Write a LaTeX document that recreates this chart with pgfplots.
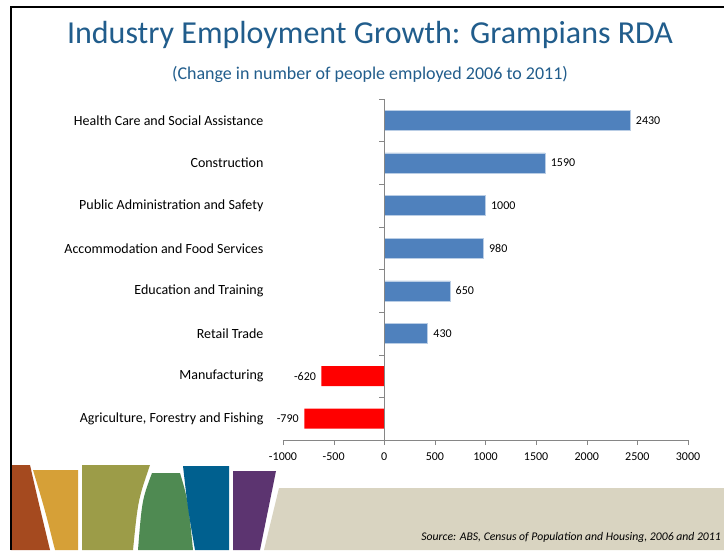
\documentclass[border=0pt]{standalone}
\usepackage{fontspec}
\setmainfont{Carlito}
\usepackage{pgfplots}
\pgfplotsset{compat=1.18}

\definecolor{titleblue}{HTML}{215D8C}
\definecolor{barblue}{HTML}{4F81BD}
\definecolor{baredge}{HTML}{B9CDE5}
\definecolor{barred}{HTML}{FF0000}
\definecolor{axisgray}{HTML}{868686}
\definecolor{cbrown}{HTML}{A54A1F}
\definecolor{cyellow}{HTML}{D6A037}
\definecolor{colive}{HTML}{9C9C48}
\definecolor{cgreen}{HTML}{4F8A52}
\definecolor{cblue}{HTML}{00608F}
\definecolor{cpurple}{HTML}{5C3470}
\definecolor{cbeige}{HTML}{D9D4C1}

\begin{document}
\begin{tikzpicture}[x=1pt,y=1pt]
  \clip (0,0) rectangle (724,550);
  \fill[white] (0,0) rectangle (724,550);

  % bottom decoration (image px, y flipped)
  \fill[cbeige] (279,62) -- (724,62) -- (724,0) -- (264,0) -- cycle;
  \fill[cbrown] (11,85) -- (30,85) .. controls (38,50) .. (50,0) -- (11,0) -- cycle;
  \fill[cyellow] (33,80) -- (78,80) -- (78,0) -- (55,0) .. controls (45,40) .. cycle;
  \fill[colive] (82,85) -- (150,85) .. controls (138,50) .. (133,0) -- (82,0) -- cycle;
  \fill[cgreen] (152,77) -- (180,77) .. controls (188,50) .. (193,0) -- (138,0) .. controls (142,50) .. cycle;
  \fill[cblue] (183,84) -- (229,84) -- (229,0) -- (195,0) .. controls (188,40) .. cycle;
  \fill[cpurple] (233,79) -- (276,79) -- (260,0) -- (233,0) -- cycle;
  \node[anchor=base east, font=\fontsize{11.7}{14}\selectfont\itshape, inner sep=0pt]
    at (721,10) {Source: ABS, Census of Population and Housing, 2006 and 2011};

  % frame
  \draw[line width=2pt] (11,0) -- (11,543) -- (730,543);

  % titles
  \node[text=titleblue, font=\fontsize{32}{36}\selectfont] at (370,515)
    {Industry Employment Growth: Grampians RDA};
  \node[text=titleblue, font=\fontsize{18}{21}\selectfont] at (370,476)
    {(Change in number of people employed 2006 to 2011)};

  \begin{axis}[
    at={(283pt,110pt)}, anchor=south west,
    width=405pt, height=341pt, scale only axis,
    xbar, bar width=20pt, bar shift=0pt,
    xmin=-1000, xmax=3000, ymin=-0.5, ymax=7.5,
    axis x line*=bottom, axis y line*=left,
    y axis line style={draw=none},
    x axis line style={axisgray, -},
    xtick={-1000,-500,...,3000},
    tick align=outside,
    major tick length=5pt,
    x tick style={axisgray},
    y tick style={draw=none},
    ytick={0,...,7},
    yticklabels={{Agriculture, Forestry and Fishing},Manufacturing,Retail Trade,
      Education and Training,Accommodation and Food Services,
      Public Administration and Safety,Construction,Health Care and Social Assistance},
    yticklabel style={font=\fontsize{14}{16}\selectfont, anchor=east, xshift=-11pt},
    xticklabel style={font=\fontsize{12}{14}\selectfont, yshift=-4pt},
    /pgf/number format/assume math mode=true,
    /pgf/number format/1000 sep={},
    nodes near coords,
    nodes near coords style={font=\fontsize{12}{14}\selectfont, text=black},
    clip=false,
  ]
    \addplot[fill=barblue, draw=baredge, line width=0.6pt,
      nodes near coords style={anchor=west, xshift=2pt}]
      coordinates {(430,2) (650,3) (980,4) (1000,5) (1590,6) (2430,7)};
    \addplot[fill=barred, draw=none,
      nodes near coords style={anchor=east, xshift=-2pt}]
      coordinates {(-620,1) (-790,0)};
    \draw[axisgray] (axis cs:0,-0.5) -- (axis cs:0,7.5);
    \pgfplotsinvokeforeach{-0.5,0.5,...,7.5}{
      \draw[axisgray] (axis cs:0,#1) -- ++(-5pt,0pt);
    }
  \end{axis}
\end{tikzpicture}
\end{document}
